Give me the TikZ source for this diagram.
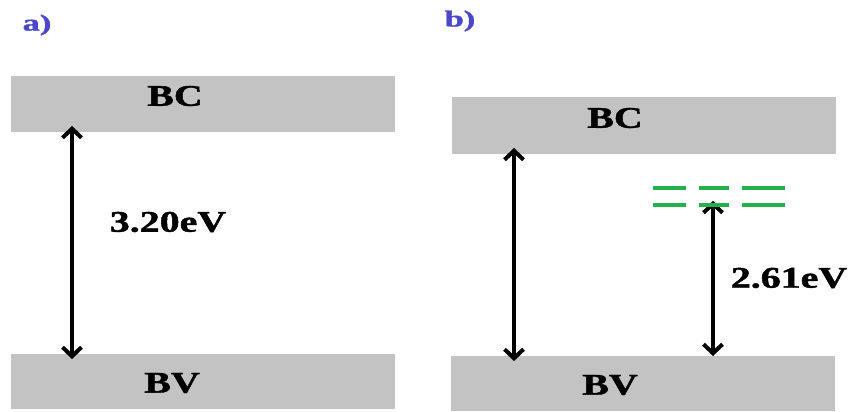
\documentclass[tikz,border=0pt]{standalone}
\usepackage{fontspec}
\usepackage{graphicx}
\setmainfont{Liberation Serif}[BoldFeatures={FakeBold=1.2}]
\usetikzlibrary{arrows.meta}
\definecolor{bandgray}{HTML}{C3C3C3}
\definecolor{levelgreen}{HTML}{22B14C}
\definecolor{panelblue}{HTML}{4A48C8}
\newcommand{\wide}[1]{\scalebox{1.33}[1]{#1}}
\newcommand{\widepanel}[1]{\scalebox{1.5}[1]{#1}}
\tikzset{
  band/.style={fill=bandgray, draw=none, inner sep=0pt},
  bandlabel/.style={font=\fontsize{30}{30}\selectfont\bfseries, inner sep=0pt},
  gaplabel/.style={font=\fontsize{30}{30}\selectfont\bfseries, inner sep=0pt},
  panellabel/.style={font=\fontsize{23}{23}\selectfont\bfseries, text=panelblue, inner sep=0pt},
  gaparrow/.style={line width=4pt, {Straight Barb[length=9pt,width=19pt]}-{Straight Barb[length=9pt,width=19pt]}},
  level/.style={levelgreen, line width=4pt}
}
\begin{document}
\begin{tikzpicture}[x=1pt,y=-1pt]
\useasboundingbox (0,0) rectangle (854,412);
% panel a
\node[band, minimum width=384pt, minimum height=56pt] (bca) at (203,104) {};
\node[band, minimum width=384pt, minimum height=55pt] (bva) at (203,381.5) {};
\node[bandlabel] (bcatext) at (175,96) {\wide{BC}};
\node[bandlabel] (bvatext) at (172,383) {\wide{BV}};
\node[gaplabel] (gapa) at (168,222) {\wide{3.20eV}};
\node[panellabel] (la) at (37,25) {\widepanel{a)}};
\coordinate (a1) at (72,126);
\coordinate (a2) at (72,359);
\draw[gaparrow] (a2) -- (a1);
% panel b
\node[band, minimum width=384pt, minimum height=57pt] (bcb) at (644,125.5) {};
\node[band, minimum width=384pt, minimum height=55pt] (bvb) at (643,383.5) {};
\node[bandlabel] (bcbtext) at (615,118) {\wide{BC}};
\node[bandlabel] (bvbtext) at (610,385) {\wide{BV}};
\node[gaplabel] (gapb) at (789,278) {\wide{2.61eV}};
\node[panellabel] (lb) at (460,21) {\widepanel{b)}};
\coordinate (b1) at (514,148);
\coordinate (b2) at (514,361);
\draw[gaparrow] (b2) -- (b1);
\coordinate (c1) at (713,201);
\coordinate (c2) at (713,356);
\draw[gaparrow] (c2) -- (c1);
% defect levels
\coordinate (d1) at (653,188); \coordinate (d2) at (686,188);
\coordinate (d3) at (699,188); \coordinate (d4) at (729,188);
\coordinate (d5) at (742,188); \coordinate (d6) at (785,188);
\coordinate (e1) at (653,205); \coordinate (e2) at (686,205);
\coordinate (e3) at (699,205); \coordinate (e4) at (729,205);
\coordinate (e5) at (742,205); \coordinate (e6) at (785,205);
\draw[level] (d1) -- (d2) (d3) -- (d4) (d5) -- (d6);
\draw[level] (e1) -- (e2) (e3) -- (e4) (e5) -- (e6);
\end{tikzpicture}
\end{document}
